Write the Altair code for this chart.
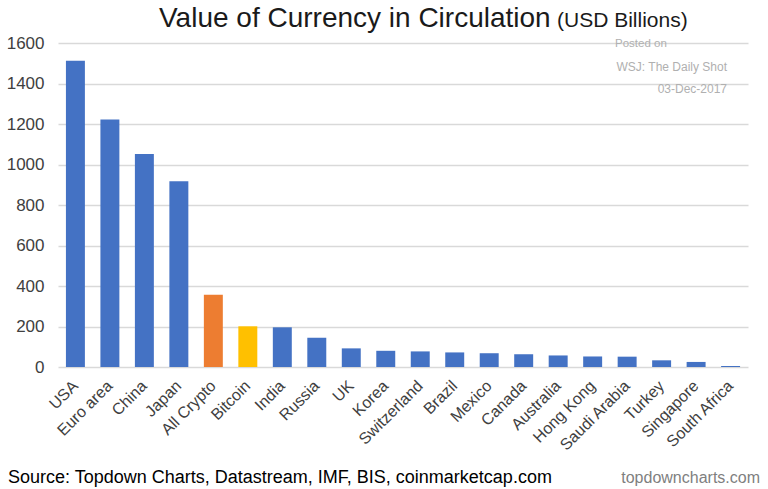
import altair as alt
import pandas as pd

categories = ["USA", "Euro area", "China", "Japan", "All Crypto", "Bitcoin", "India", "Russia",
              "UK", "Korea", "Switzerland", "Brazil", "Mexico", "Canada", "Australia",
              "Hong Kong", "Saudi Arabia", "Turkey", "Singapore", "South Africa"]
values = [1512, 1222, 1052, 917, 357, 201, 196, 144, 92, 80, 77, 72, 68, 63, 57, 52, 51, 33, 25, 5]
groups = ["Currency"] * 4 + ["All Crypto", "Bitcoin"] + ["Currency"] * 14
y_ticks = [0, 200, 400, 600, 800, 1000, 1200, 1400, 1600]

group_domain = ["Currency", "All Crypto", "Bitcoin"]
group_colors = ["#4472C4", "#ED7D31", "#FFC000"]

df = pd.DataFrame({"country": categories, "value": values, "group": groups})

FONT = "Liberation Sans"
W, H = 690, 324

bars = alt.Chart(df).mark_bar().encode(
    x=alt.X("country:N", sort=categories, title=None,
            scale=alt.Scale(paddingInner=0.45, paddingOuter=0.23),
            axis=alt.Axis(labelAngle=-45, labelAlign="right", labelBaseline="middle",
                          labelFontSize=16, labelColor="#404040", labelFont=FONT,
                          ticks=False, domain=False, labelPadding=16, grid=False)),
    y=alt.Y("value:Q", title=None,
            scale=alt.Scale(domain=[0, 1600], nice=False),
            axis=alt.Axis(values=y_ticks, format="d", labelFontSize=17, labelColor="#404040",
                          labelFont=FONT, ticks=False, domain=False, labelPadding=14,
                          gridColor="#d9d9d9", gridWidth=1.5)),
    color=alt.Color("group:N", scale=alt.Scale(domain=group_domain, range=group_colors), legend=None),
)

def txt(s, x, y, size, color, align="left"):
    return alt.Chart(pd.DataFrame({"t": [s]})).mark_text(
        align=align, baseline="alphabetic", fontSize=size, color=color, font=FONT
    ).encode(text="t:N", x=alt.value(x), y=alt.value(y))

ox, oy = 58, 43
layers = [
    bars,
    txt("Value of Currency in Circulation", 159 - ox, 27 - oy, 28, "#1a1a1a"),
    txt("(USD Billions)", 557 - ox, 27 - oy, 21, "#1a1a1a"),
    txt("Posted on", 615 - ox, 47 - oy, 11.5, "#b0b0b0"),
    txt("WSJ: The Daily Shot", 727 - ox, 71 - oy, 12, "#b0b0b0", align="right"),
    txt("03-Dec-2017", 727 - ox, 93 - oy, 12, "#b0b0b0", align="right"),
    txt("Source: Topdown Charts, Datastream, IMF, BIS, coinmarketcap.com", 8 - ox, 483 - oy, 18, "#000000"),
    txt("topdowncharts.com", 760 - ox, 483 - oy, 16, "#7f7f7f", align="right"),
]

chart = alt.layer(*layers).properties(
    width=W, height=H,
    autosize=alt.AutoSizeParams(type="none"),
    padding={"left": ox, "top": oy, "right": 768 - ox - W, "bottom": 489 - oy - H},
    background="white",
).configure_view(stroke=None)

chart.save("out.html", embed_options={"renderer": "svg", "actions": False})
